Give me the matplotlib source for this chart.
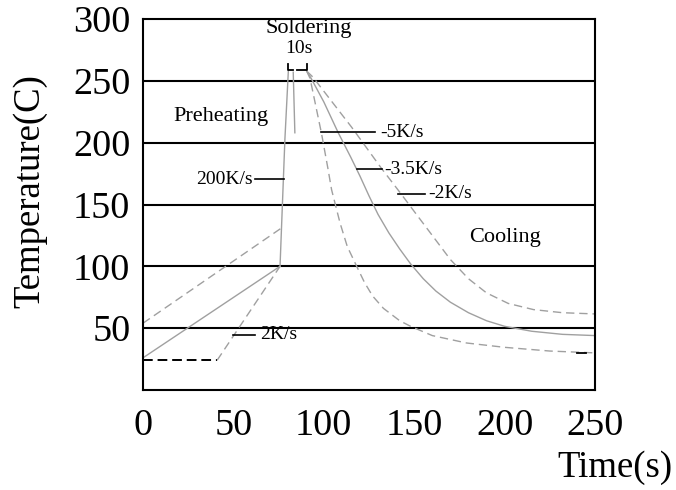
import matplotlib
matplotlib.use('Agg')
import matplotlib.pyplot as plt

plt.rcParams['font.family'] = ['Liberation Serif', 'DejaVu Serif']

# preheating ramps
pre_mid_t = [0, 75.8]
pre_mid_T = [26, 100]
pre_hi_t = [0, 76.6]
pre_hi_T = [54, 131]
hold_lo_t = [0, 41]
hold_lo_T = [24, 24]
pre_lo_t = [41, 75.8]
pre_lo_T = [24, 100]

# rise to soldering peak
rise_t = [75.8, 78.5, 80.4]
rise_T = [100, 203, 258]
drop_t = [83.1, 84.0]
drop_T = [257, 208]

# cooling curves
cool_fast_t = [90.5, 92.4, 98.8, 102.3, 104.3, 109, 113, 118.2, 122.5, 127, 133, 142, 148,
               160, 179, 200, 225, 250]
cool_fast_T = [258, 252, 207, 179, 162, 135, 116, 100, 87, 76, 66, 56, 51.5,
               44, 38, 34.5, 31.5, 30]
cool_mid_t = [90.5, 93, 100, 108, 115, 120, 125, 130, 136, 142, 148, 155, 162, 170,
              180, 190, 200, 215, 232, 250]
cool_mid_T = [258, 252, 233, 208, 188, 173, 157, 142, 127, 114, 102, 90, 80, 71,
              62.5, 56, 51.5, 47.5, 45, 44]
cool_slow_t = [90.5, 94, 115.4, 132, 142, 152, 158.7, 170, 180, 190, 202, 216, 232, 250]
cool_slow_T = [258, 253, 212.5, 179, 160, 140.5, 127.5, 105.5, 90, 78.5, 70, 65, 62.5, 61.5]

gray = '#a0a0a0'

fig = plt.figure(figsize=(6.76, 4.9), dpi=100)
ax = fig.add_axes([0.2115, 0.2041, 0.6687, 0.7571])
ax.set_xlim(0, 250)
ax.set_ylim(0, 300)

# horizontal reference lines
for yv in [50, 100, 150, 200, 250]:
    ax.axhline(yv, color='black', lw=1.5, zorder=1)

ax.plot(pre_mid_t, pre_mid_T, color=gray, lw=1.0)
ax.plot(pre_hi_t, pre_hi_T, color=gray, lw=1.0, dashes=(6, 3.5))
ax.plot(hold_lo_t, hold_lo_T, color='black', lw=1.4, dashes=(5, 2.5))
ax.plot(pre_lo_t, pre_lo_T, color=gray, lw=1.0, dashes=(6, 3.5))
ax.plot(rise_t, rise_T, color=gray, lw=1.0)
ax.plot(drop_t, drop_T, color=gray, lw=1.0)

ax.plot(cool_fast_t, cool_fast_T, color=gray, lw=1.0, dashes=(6, 3.5))
ax.plot(cool_mid_t, cool_mid_T, color=gray, lw=1.0)
ax.plot(cool_slow_t, cool_slow_T, color=gray, lw=1.0, dashes=(6, 3.5))
ax.plot([240, 245], [30, 30], color='black', lw=1.3)

# 10 s bracket
ax.plot([80.4, 80.4, 83.1], [264, 258.4, 258.4], color='black', lw=1.3)
ax.plot([85.2, 90.5, 90.5], [258.4, 258.4, 264], color='black', lw=1.3)

# rate markers
ax.plot([62, 78], [170.5, 170.5], color='black', lw=1.2)
ax.plot([50, 62], [44.6, 44.6], color='black', lw=1.2)
ax.plot([98.5, 128.3], [208.5, 208.5], color='black', lw=1.2)
ax.plot([118.2, 132], [178.6, 178.6], color='black', lw=1.2)
ax.plot([141, 156], [158.8, 158.8], color='black', lw=1.2)

ax.text(16.6, 221, 'Preheating', fontsize=16, ha='left', va='center')
ax.text(91.8, 292, 'Soldering', fontsize=16, ha='center', va='center')
ax.text(86, 276, '10s', fontsize=14, ha='center', va='center')
ax.text(200, 123.4, 'Cooling', fontsize=16, ha='center', va='center')
ax.text(60.5, 170.5, '200K/s', fontsize=14, ha='right', va='center')
ax.text(65, 44.6, '2K/s', fontsize=14, ha='left', va='center')
ax.text(131, 208.5, '-5K/s', fontsize=14, ha='left', va='center')
ax.text(133.5, 178.6, '-3.5K/s', fontsize=14, ha='left', va='center')
ax.text(157.5, 158.8, '-2K/s', fontsize=14, ha='left', va='center')

ax.set_xticks([0, 50, 100, 150, 200, 250])
ax.set_yticks([50, 100, 150, 200, 250, 300])
ax.tick_params(axis='both', length=0, labelsize=27.5)
ax.tick_params(axis='x', pad=13)
ax.tick_params(axis='y', pad=9)
for sp in ax.spines.values():
    sp.set_linewidth(1.5)

fig.text(30 / 676, 1 - 191 / 490, 'Temperature(C)', fontsize=26.5, rotation=90,
         ha='center', va='center')
fig.text(672 / 676, 1 - 468 / 490, 'Time(s)', fontsize=26.5, ha='right', va='center')

fig.savefig('out.png', dpi=100)
